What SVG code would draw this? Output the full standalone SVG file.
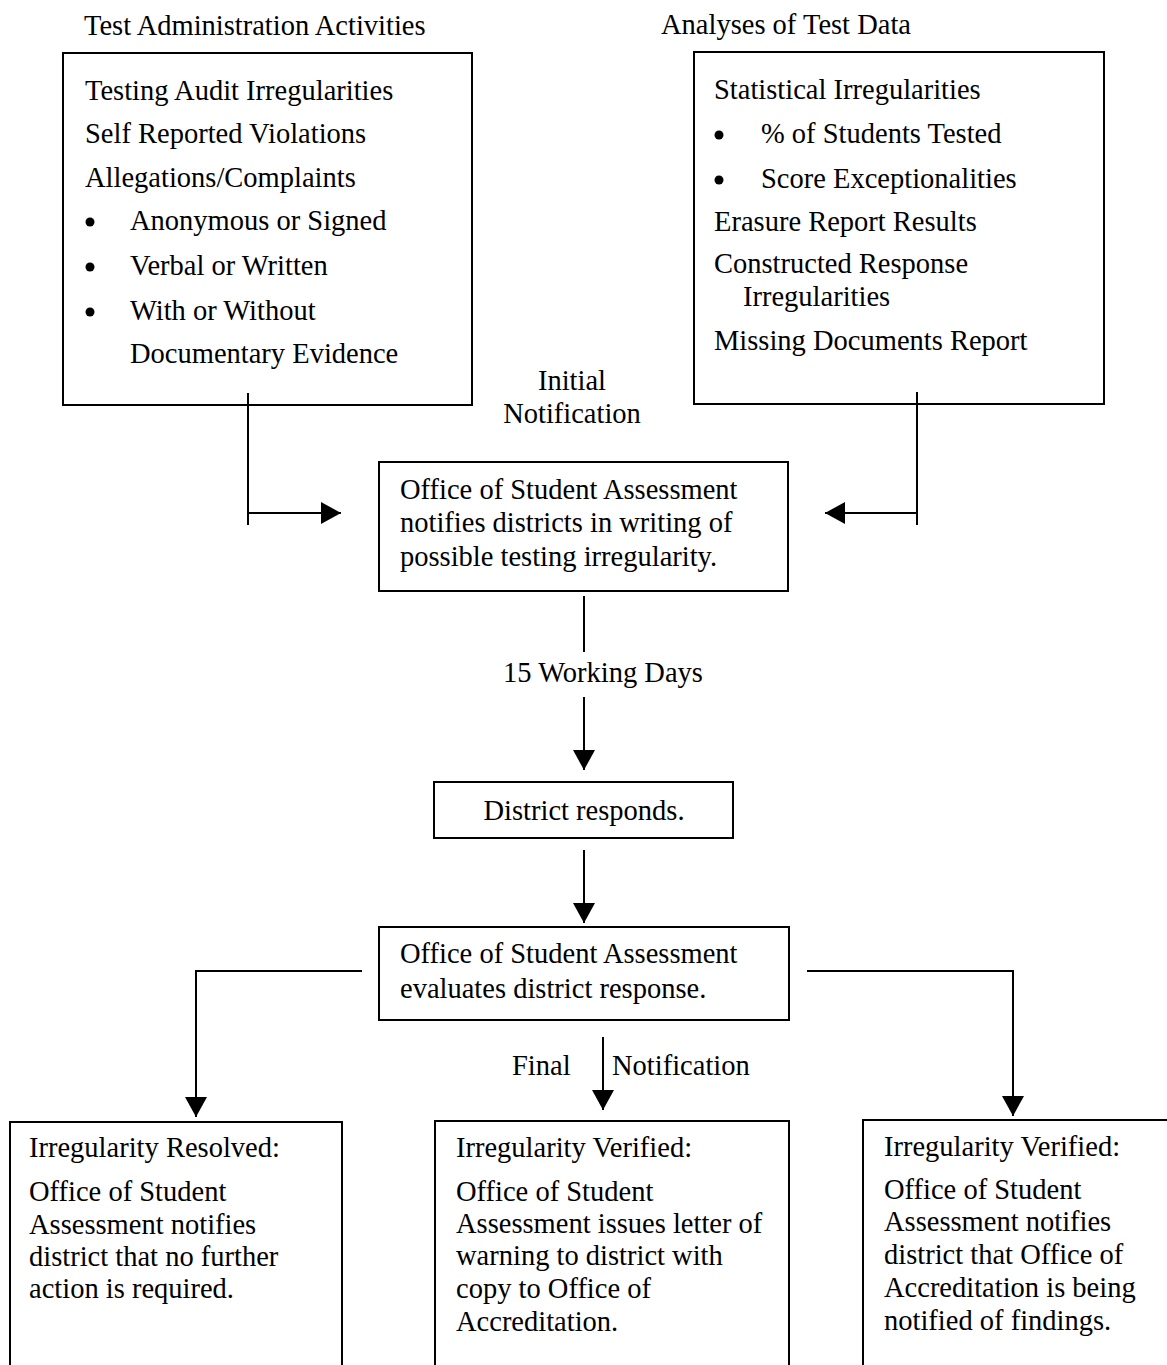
<svg xmlns="http://www.w3.org/2000/svg" width="1167" height="1365" viewBox="0 0 1167 1365">
<style>
text{font-family:"Liberation Serif","Times New Roman",serif;font-size:28.5px;fill:#000}
.box{fill:#fff;stroke:#000;stroke-width:2}
.ln{fill:none;stroke:#000;stroke-width:2}
.mid{text-anchor:middle}
</style>
<defs>
<marker id="ah" viewBox="0 0 20 22" refX="20" refY="11" markerWidth="20" markerHeight="22" markerUnits="userSpaceOnUse" orient="auto">
<path d="M0,0 L20,11 L0,22 Z" fill="#000"/>
</marker>
</defs>
<rect width="1167" height="1365" fill="#fff"/>
<g id="title-left"><text x="84" y="35">Test Administration Activities</text></g>
<g id="title-right"><text x="661" y="34">Analyses of Test Data</text></g>
<g id="box-admin">
<rect class="box" x="63" y="53" width="409" height="352"/>
<text x="85" y="100">Testing Audit Irregularities</text>
<text x="85" y="143">Self Reported Violations</text>
<text x="85" y="187">Allegations/Complaints</text>
<circle cx="90" cy="222" r="4.5"/><text x="130" y="230">Anonymous or Signed</text>
<circle cx="90" cy="267" r="4.5"/><text x="130" y="275">Verbal or Written</text>
<circle cx="90" cy="312" r="4.5"/><text x="130" y="320">With or Without</text>
<text x="130" y="363">Documentary Evidence</text>
</g>
<g id="box-analyses">
<rect class="box" x="694" y="52" width="410" height="352"/>
<text x="714" y="99">Statistical Irregularities</text>
<circle cx="719" cy="135" r="4.5"/><text x="761" y="143">% of Students Tested</text>
<circle cx="719" cy="180" r="4.5"/><text x="761" y="188">Score Exceptionalities</text>
<text x="714" y="231">Erasure Report Results</text>
<text x="714" y="273">Constructed Response</text>
<text x="743" y="306">Irregularities</text>
<text x="714" y="350">Missing Documents Report</text>
</g>
<g id="label-initial">
<text class="mid" x="572" y="390">Initial</text>
<text class="mid" x="572" y="423">Notification</text>
</g>
<g id="box-notify">
<rect class="box" x="379" y="462" width="409" height="129"/>
<text x="400" y="499">Office of Student Assessment</text>
<text x="400" y="532">notifies districts in writing of</text>
<text x="400" y="566">possible testing irregularity.</text>
</g>
<g id="label-15"><text class="mid" x="603" y="682">15 Working Days</text></g>
<g id="box-responds">
<rect class="box" x="434" y="782" width="299" height="56"/>
<text class="mid" x="584" y="820">District responds.</text>
</g>
<g id="box-evaluates">
<rect class="box" x="379" y="927" width="410" height="93"/>
<text x="400" y="963">Office of Student Assessment</text>
<text x="400" y="998">evaluates district response.</text>
</g>
<g id="label-final">
<text x="512" y="1075">Final</text>
<text x="612" y="1075">Notification</text>
</g>
<g id="box-resolved">
<rect class="box" x="10" y="1122" width="332" height="260"/>
<text x="29" y="1157">Irregularity Resolved:</text>
<text x="29" y="1201">Office of Student</text>
<text x="29" y="1234">Assessment notifies</text>
<text x="29" y="1266">district that no further</text>
<text x="29" y="1298">action is required.</text>
</g>
<g id="box-verified-warning">
<rect class="box" x="435" y="1121" width="354" height="260"/>
<text x="456" y="1157">Irregularity Verified:</text>
<text x="456" y="1201">Office of Student</text>
<text x="456" y="1233">Assessment issues letter of</text>
<text x="456" y="1265">warning to district with</text>
<text x="456" y="1298">copy to Office of</text>
<text x="456" y="1331">Accreditation.</text>
</g>
<g id="box-verified-accreditation">
<rect class="box" x="863" y="1120" width="320" height="260"/>
<text x="884" y="1156">Irregularity Verified:</text>
<text x="884" y="1199">Office of Student</text>
<text x="884" y="1231">Assessment notifies</text>
<text x="884" y="1264">district that Office of</text>
<text x="884" y="1297">Accreditation is being</text>
<text x="884" y="1330">notified of findings.</text>
</g>
<g id="connectors">
<path class="ln" d="M248,393 V525"/>
<path class="ln" d="M248,513 H341" marker-end="url(#ah)"/>
<path class="ln" d="M917,392 V525"/>
<path class="ln" d="M917,513 H825" marker-end="url(#ah)"/>
<path class="ln" d="M584,596 V652"/>
<path class="ln" d="M584,697 V770" marker-end="url(#ah)"/>
<path class="ln" d="M584,850 V923" marker-end="url(#ah)"/>
<path class="ln" d="M362,971 H196 V1117" marker-end="url(#ah)"/>
<path class="ln" d="M807,971 H1013 V1116" marker-end="url(#ah)"/>
<path class="ln" d="M603,1037 V1110" marker-end="url(#ah)"/>
</g>
</svg>
